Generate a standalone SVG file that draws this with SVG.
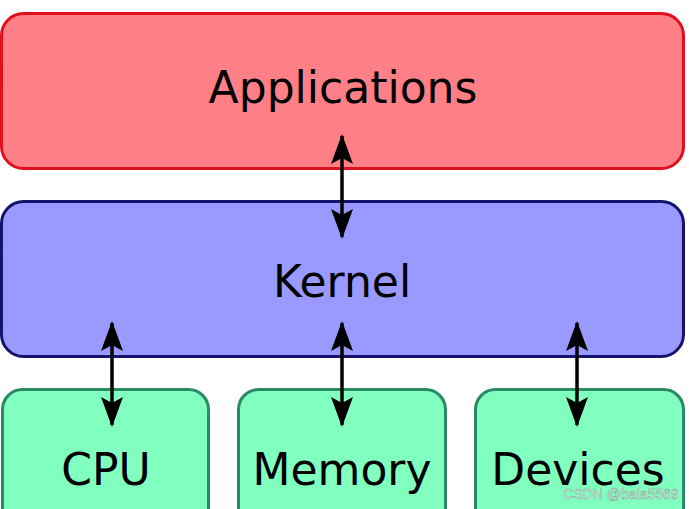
<svg xmlns="http://www.w3.org/2000/svg" width="689" height="509" viewBox="0 0 689 509">
<defs>
<style>
.lbl{font-family:"DejaVu Sans",sans-serif;font-size:44px;fill:#000;text-anchor:middle}
.app{fill:#ff7f87;stroke:#e0101c;stroke-width:3}
.ker{fill:#9999ff;stroke:#14146e;stroke-width:3}
.hw{fill:#80ffbe;stroke:#2a8a66;stroke-width:3}
.conn{stroke:#000;stroke-width:3.5;fill:none;marker-start:url(#ah);marker-end:url(#ah)}
</style>
<marker id="ah" viewBox="0 0 30 22" refX="28" refY="11" markerWidth="30" markerHeight="22" markerUnits="userSpaceOnUse" orient="auto-start-reverse">
<path d="M0,0 L30,11 L0,22 L6,11 Z" fill="#000"/>
</marker>
</defs>
<rect width="689" height="509" fill="#fff"/>
<g id="applications">
<rect class="app" x="1.5" y="13.5" width="682" height="155" rx="22"/>
<text class="lbl" x="343" y="103">Applications</text>
</g>
<g id="kernel">
<rect class="ker" x="1.5" y="201.5" width="682" height="155" rx="22"/>
<text class="lbl" x="342" y="297">Kernel</text>
</g>
<g id="cpu">
<rect class="hw" x="2.5" y="389.5" width="206" height="140" rx="20"/>
<text class="lbl" x="106" y="485">CPU</text>
</g>
<g id="memory">
<rect class="hw" x="238.5" y="389.5" width="207" height="140" rx="20"/>
<text class="lbl" x="342" y="485">Memory</text>
</g>
<g id="devices">
<rect class="hw" x="475.5" y="389.5" width="208" height="140" rx="20"/>
<text class="lbl" x="578" y="485">Devices</text>
</g>
<g id="connectors">
<line class="conn" x1="342" y1="136" x2="342" y2="237"/>
<line class="conn" x1="112" y1="323" x2="112" y2="425"/>
<line class="conn" x1="342" y1="323" x2="342" y2="425"/>
<line class="conn" x1="577" y1="323" x2="577" y2="425"/>
</g>
<text x="621" y="499" font-family="Liberation Sans, sans-serif" font-size="14" fill="#e0ece6" stroke="#7f9088" stroke-width="0.4" text-anchor="middle">CSDN @bala5569</text>
</svg>
